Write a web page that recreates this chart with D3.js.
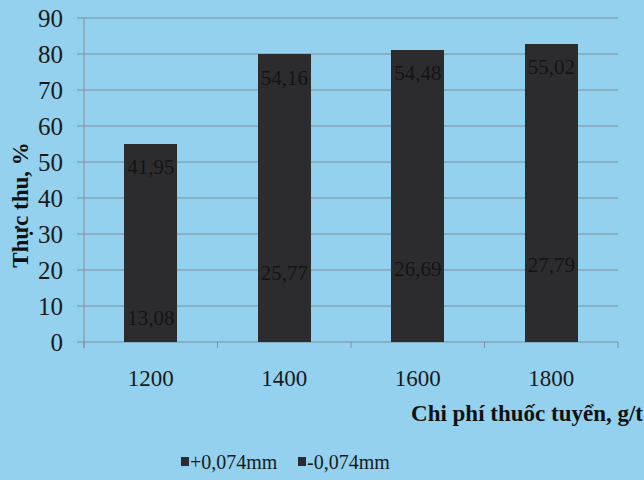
<!DOCTYPE html>
<html lang="vi">
<head>
<meta charset="utf-8" />
<title>Thực thu</title>
<script src="https://cdn.jsdelivr.net/npm/d3@7/dist/d3.min.js"></script>
<style>
  html, body { margin: 0; padding: 0; background: #93d1ee; }
  svg { display: block; }
  svg text { font-family: "Liberation Serif", "DejaVu Serif", serif; }
</style>
</head>
<body>
<div id="chart"></div>
<script>
// data
var categories = ["1200", "1400", "1600", "1800"];
var seriesNames = ["+0,074mm", "-0,074mm"];
var plusValues = [13.08, 25.77, 26.69, 27.79];
var minusValues = [41.95, 54.16, 54.48, 55.02];
var yTicks = [0, 10, 20, 30, 40, 50, 60, 70, 80, 90];

var width = 644, height = 480;
var margin = { top: 18, right: 26, bottom: 138, left: 84 };

var svg = d3.select("#chart").append("svg")
    .attr("width", width)
    .attr("height", height);

svg.append("rect").attr("width", width).attr("height", height).attr("fill", "#93d1ee");

var x = d3.scaleBand()
    .domain(categories)
    .range([margin.left, width - margin.right])
    .paddingInner(0.6)
    .paddingOuter(0.3);

var y = d3.scaleLinear()
    .domain([0, 90])
    .range([height - margin.bottom, margin.top]);

// gridlines
svg.append("g")
    .selectAll("line")
    .data(yTicks)
    .enter().append("line")
    .attr("x1", margin.left - 7)
    .attr("x2", width - margin.right)
    .attr("y1", function (d) { return y(d); })
    .attr("y2", function (d) { return y(d); })
    .attr("stroke", "#7f8f9c")
    .attr("stroke-width", 1.2);

// left axis line
svg.append("line")
    .attr("x1", margin.left).attr("x2", margin.left)
    .attr("y1", y(90)).attr("y2", y(0) + 6)
    .attr("stroke", "#7f8f9c");

// category ticks on the x axis
var bounds = categories.map(function (c) { return x(c) - x.step() * x.paddingInner() / 2; });
bounds.push(width - margin.right);
svg.append("g")
    .selectAll("line")
    .data(bounds)
    .enter().append("line")
    .attr("x1", function (d) { return d; })
    .attr("x2", function (d) { return d; })
    .attr("y1", y(0))
    .attr("y2", y(0) + 6)
    .attr("stroke", "#7f8f9c");

// y tick labels
svg.append("g")
    .selectAll("text")
    .data(yTicks)
    .enter().append("text")
    .attr("x", 63)
    .attr("y", function (d) { return y(d); })
    .attr("dy", "0.35em")
    .attr("text-anchor", "end")
    .attr("font-size", 25)
    .attr("fill", "#1a1a1a")
    .text(function (d) { return d; });

// stacked bars
var rows = categories.map(function (c, i) {
    return { cat: c, plus: plusValues[i], minus: minusValues[i] };
});
var stack = d3.stack().keys(["plus", "minus"]);
var layers = stack(rows);

var barG = svg.append("g");
layers.forEach(function (layer) {
    barG.selectAll(null)
        .data(layer)
        .enter().append("rect")
        .attr("x", function (d) { return x(d.data.cat); })
        .attr("width", x.bandwidth())
        .attr("y", function (d) { return y(d[1]); })
        .attr("height", function (d) { return y(d[0]) - y(d[1]); })
        .attr("shape-rendering", "crispEdges")
        .attr("fill", "#2c2c2e");
});

// labels at inside end of each segment
layers.forEach(function (layer) {
    barG.selectAll(null)
        .data(layer)
        .enter().append("text")
        .attr("x", function (d) { return x(d.data.cat) + x.bandwidth() / 2; })
        .attr("y", function (d) { return y(d[1]) + 23; })
        .attr("dy", "0.35em")
        .attr("text-anchor", "middle")
        .attr("font-size", 21)
        .attr("fill", "#141414")
        .text(function (d) { return (d[1] - d[0]).toFixed(2).replace(".", ","); });
});

// x tick labels
svg.append("g")
    .selectAll("text")
    .data(categories)
    .enter().append("text")
    .attr("x", function (d) { return x(d) + x.bandwidth() / 2; })
    .attr("y", 378)
    .attr("dy", "0.35em")
    .attr("text-anchor", "middle")
    .attr("font-size", 23)
    .attr("fill", "#1a1a1a")
    .text(function (d) { return d; });

// axis titles
svg.append("text")
    .attr("x", 643)
    .attr("y", 413)
    .attr("dy", "0.35em")
    .attr("text-anchor", "end")
    .attr("font-size", 23)
    .attr("font-weight", "bold")
    .attr("fill", "#111")
    .text("Chi phí thuốc tuyển, g/t");

svg.append("text")
    .attr("transform", "translate(20,205) rotate(-90)")
    .attr("dy", "0.35em")
    .attr("text-anchor", "middle")
    .attr("font-size", 23)
    .attr("font-weight", "bold")
    .attr("fill", "#111")
    .text("Thực thu, %");

// legend
var legendX = [181, 298];
var legend = svg.append("g");
seriesNames.forEach(function (name, i) {
    legend.append("rect")
        .attr("x", legendX[i])
        .attr("y", 457)
        .attr("width", 8)
        .attr("height", 9)
        .attr("fill", "#2c2c2e");
    legend.append("text")
        .attr("x", legendX[i] + 9)
        .attr("y", 462)
        .attr("dy", "0.35em")
        .attr("font-size", 20)
        .attr("fill", "#1a1a1a")
        .text(name);
});
</script>
</body>
</html>
